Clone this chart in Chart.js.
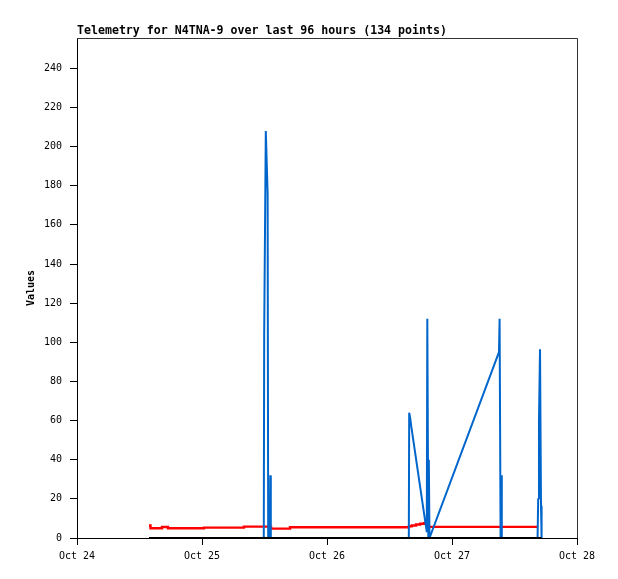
<!DOCTYPE html>
<html>
<head>
<meta charset="utf-8">
<script src="https://cdn.jsdelivr.net/npm/chart.js@4.4.0/dist/chart.umd.min.js"></script>
<style>
  body { margin: 0; background: #fff; }
  #wrap { width: 618px; height: 579px; }
</style>
</head>
<body>
<div id="wrap"><canvas id="myChart"></canvas></div>
<script>
// hours counted from Oct 24 00:00
const dayLabels = ["Oct 24", "Oct 25", "Oct 26", "Oct 27", "Oct 28"];
const yTicks = [0, 20, 40, 60, 80, 100, 120, 140, 160, 180, 200, 220, 240];

const redHours = [13.82, 14.11, 16.32, 17.47, 24.38, 32.06, 37.25, 40.9, 63.74, 64.3, 65.1, 65.9, 66.6, 67.4, 88.51];
const redValues = [6.4, 5.0, 5.6, 5.0, 5.3, 5.8, 4.8, 5.5, 6.0, 6.4, 6.9, 7.3, 7.6, 5.7, 5.7];

const blueHours = [13.82, 35.86, 35.94, 36.25, 36.6, 36.71, 37.04, 37.11, 37.21,
  63.71, 63.78, 63.99, 64.18, 67.16, 67.26, 67.45, 67.55, 67.68,
  81.02, 81.14, 81.33, 81.45, 81.56,
  88.43, 88.55, 88.7, 88.9, 89.09, 89.2];
const blueValues = [0, 0, 104, 208, 176, 0, 0, 32, 0,
  0, 64, 61, 57, 3, 112, 0, 40, 0,
  95, 112, 0, 32, 0,
  0, 20, 60, 96.5, 16.5, 0];

const blackHours = [13.82, 89.18];
const blackValues = [0, 0];

const toPoints = (xs, ys) => xs.map((x, i) => ({ x: x, y: ys[i] }));

// title and top/right frame lines
const frame = {
  id: "frame",
  afterDraw(chart) {
    const { ctx, chartArea } = chart;
    ctx.save();
    ctx.strokeStyle = "#333";
    ctx.lineWidth = 1;
    ctx.beginPath();
    ctx.moveTo(chartArea.left, chartArea.top + 0.5);
    ctx.lineTo(chartArea.right + 0.5, chartArea.top + 0.5);
    ctx.lineTo(chartArea.right + 0.5, chartArea.bottom);
    ctx.stroke();
    ctx.fillStyle = "#000";
    ctx.font = "bold 11.6px 'DejaVu Sans Mono'";
    ctx.textBaseline = "middle";
    ctx.textAlign = "left";
    ctx.fillText("Telemetry for N4TNA-9 over last 96 hours (134 points)", 77, 31);
    ctx.restore();
  },
};

const ctx = document.getElementById("myChart").getContext("2d");
const chart = new Chart(ctx, {
  type: "line",
  data: {
    datasets: [
      {
        label: "black",
        data: toPoints(blackHours, blackValues),
        borderColor: "#000000",
        borderWidth: 2,
        pointRadius: 0,
        order: 0,
      },
      {
        label: "blue",
        data: toPoints(blueHours, blueValues),
        borderColor: "#0066cc",
        borderWidth: 2,
        borderJoinStyle: "bevel",
        pointRadius: 0,
        order: 1,
      },
      {
        label: "red",
        data: toPoints(redHours, redValues),
        borderColor: "#ff0000",
        borderWidth: 2.4,
        pointRadius: 0,
        stepped: true,
        order: 2,
      },
    ],
  },
  options: {
    responsive: true,
    maintainAspectRatio: false,
    animation: false,
    layout: { padding: { left: 0, top: 38, right: 41, bottom: 0 } },
    plugins: {
      legend: { display: false },
      tooltip: { enabled: false },
    },
    scales: {
      x: {
        type: "linear",
        min: 0,
        max: 96,
        afterFit: (s) => { s.height = 41; },
        afterBuildTicks: (s) => { s.ticks = dayLabels.map((d, i) => ({ value: i * 24 })); },
        ticks: {
          callback: (v) => dayLabels[v / 24],
          color: "#000",
          padding: 5,
          maxRotation: 0,
          autoSkip: false,
          font: { family: "'DejaVu Sans Mono'", size: 10 },
        },
        grid: { drawOnChartArea: false, drawTicks: true, tickLength: 7, tickColor: "#000" },
        border: { display: true, color: "#000", width: 1 },
      },
      y: {
        min: 0,
        max: 255.5,
        afterFit: (s) => { s.width = 77; },
        afterBuildTicks: (s) => { s.ticks = yTicks.map((v) => ({ value: v })); },
        ticks: {
          color: "#000",
          padding: 8,
          font: { family: "'DejaVu Sans Mono'", size: 10 },
        },
        grid: { drawOnChartArea: false, drawTicks: true, tickLength: 7, tickColor: "#000" },
        border: { display: true, color: "#000", width: 1 },
        title: {
          display: true,
          text: "Values",
          color: "#000",
          padding: { top: 25, bottom: 0 },
          font: { family: "'DejaVu Sans Mono'", size: 10, weight: "bold" },
        },
      },
    },
  },
  plugins: [frame],
});
</script>
</body>
</html>
